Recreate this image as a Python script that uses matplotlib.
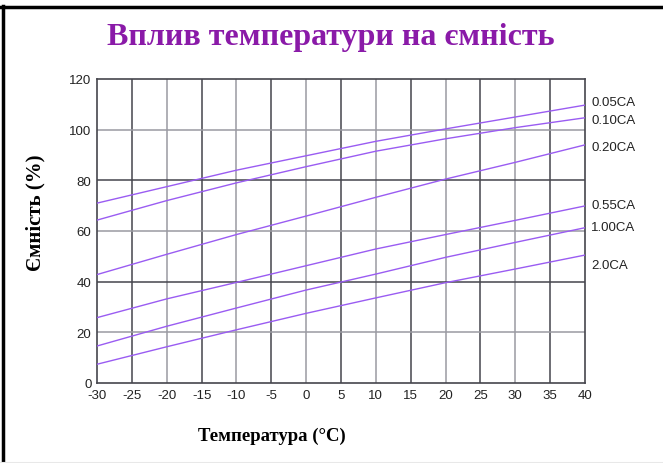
import matplotlib
matplotlib.use("Agg")
import matplotlib.pyplot as plt
from matplotlib.lines import Line2D

temps = [-30, -20, -10, 0, 10, 20, 30, 40]
cap_005 = [71.0, 77.5, 84.0, 89.7, 95.4, 100.3, 105.0, 109.7]
cap_010 = [64.3, 72.0, 79.0, 85.4, 91.5, 96.4, 100.8, 104.7]
cap_020 = [42.8, 50.8, 58.6, 65.9, 73.3, 80.5, 87.1, 94.0]
cap_055 = [25.8, 33.2, 39.7, 46.3, 52.9, 58.6, 64.2, 69.9]
cap_100 = [14.6, 22.4, 29.6, 36.7, 43.0, 49.6, 55.5, 61.3]
cap_200 = [7.4, 14.3, 21.0, 27.5, 33.6, 39.6, 45.0, 50.5]
series_names = ["0.05CA", "0.10CA", "0.20CA", "0.55CA", "1.00CA", "2.0CA"]
label_y = [110.9, 103.8, 93.2, 70.3, 61.6, 46.6]
x_ticks = list(range(-30, 45, 5))
y_ticks = list(range(0, 140, 20))

title = "Вплив температури на ємність"
xlabel = "Температура (°C)"
ylabel = "Ємність (%)"

W, H = 663, 464
fig = plt.figure(figsize=(W / 100, H / 100), dpi=100)
ax = fig.add_axes([97 / W, 1 - 384 / H, (585 - 97) / W, (384 - 80) / H])

dark = "#45454d"
light = "#9a9aa2"
for i, xv in enumerate(x_ticks[1:-1]):
    ax.axvline(xv, color=dark if i % 2 == 0 else light, lw=1.1, zorder=1)
for i, yv in enumerate(y_ticks[1:-1]):
    ax.axhline(yv, color=light if i % 2 == 0 else dark, lw=1.1, zorder=1)

line_color = "#9a5cf2"
for vals in [cap_005, cap_010, cap_020, cap_055, cap_100, cap_200]:
    ax.plot(temps, vals, color=line_color, lw=1.0, zorder=3)

ax.set_xlim(-30, 40)
ax.set_ylim(0, 120)
ax.set_xticks(x_ticks)
ax.set_yticks(y_ticks)
ax.set_xticklabels([str(v) for v in x_ticks], family="Liberation Sans", fontsize=9.5, color="#222222")
ax.set_yticklabels([str(v) for v in y_ticks], family="Liberation Sans", fontsize=9.5, color="#222222")
ax.tick_params(length=0, pad=4)
for s in ax.spines.values():
    s.set_color(dark)
    s.set_linewidth(1.2)

for name, yv in zip(series_names, label_y):
    ax.text(40.9, yv, name, family="Liberation Sans", fontsize=9.5, color="#222222",
            va="center", ha="left", clip_on=False)

fig.text(331 / W, 1 - 37 / H, title, family="Liberation Serif", fontweight="bold",
         fontsize=23, color="#8a1aa8", ha="center", va="center")
fig.text(272 / W, 1 - 436 / H, xlabel, family="Liberation Serif", fontweight="bold",
         fontsize=13.5, color="black", ha="center", va="center")
fig.text(35 / W, 1 - 213 / H, ylabel, family="Liberation Serif", fontweight="bold",
         fontsize=15, color="black", ha="center", va="center", rotation=90)

# frame
fig.add_artist(Line2D([2.5 / W, 2.5 / W], [0, 1 - 7 / H], transform=fig.transFigure, color="black", lw=2.5))
fig.add_artist(Line2D([1 / W, 1], [1 - 7.5 / H, 1 - 7.5 / H], transform=fig.transFigure, color="black", lw=2.5))
fig.add_artist(Line2D([0, 1], [0.5 / H, 0.5 / H], transform=fig.transFigure, color="#e8e8e8", lw=1.5))

fig.savefig("out.png", dpi=100)
